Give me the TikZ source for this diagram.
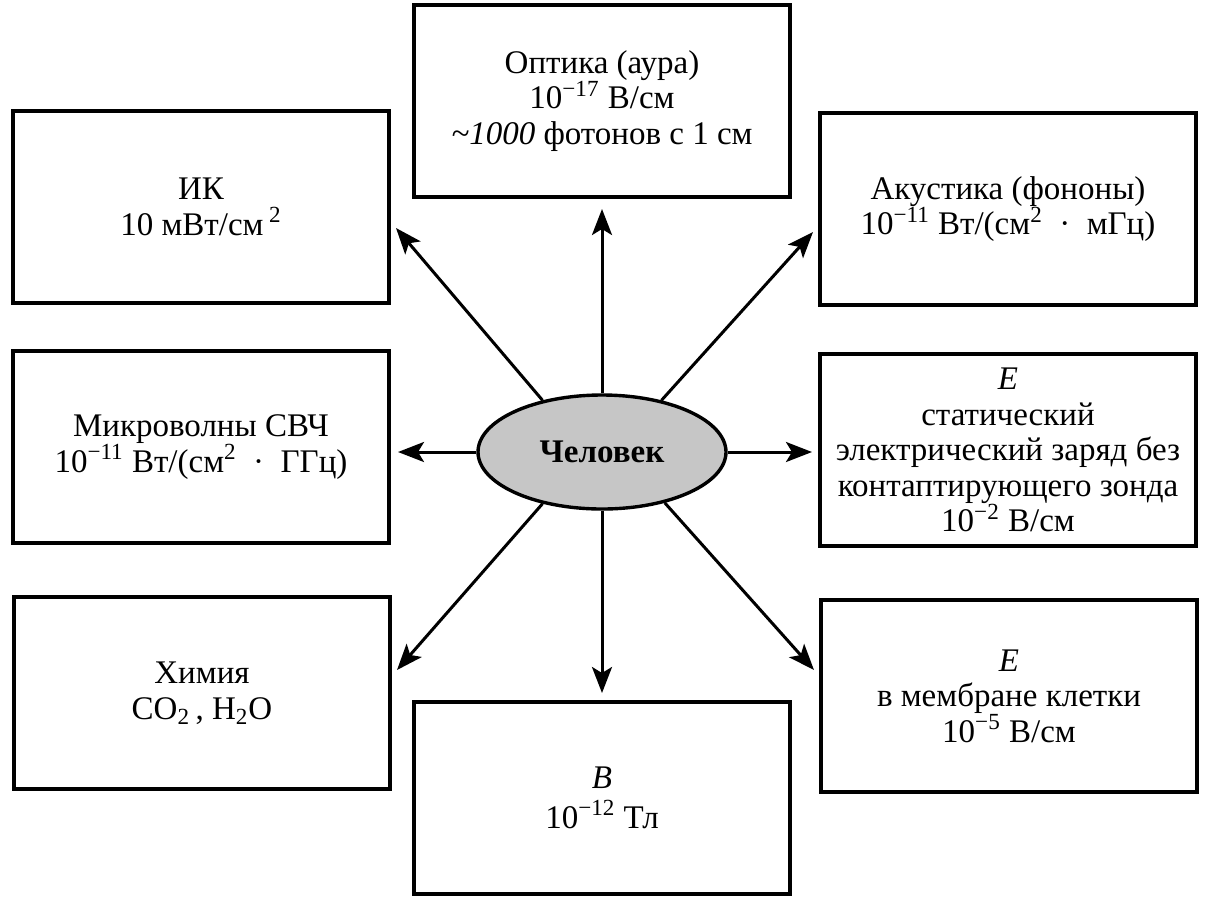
\documentclass[tikz,border=0pt]{standalone}
\usepackage{fontspec}
\setmainfont{Liberation Serif}
\usepackage{tikz}
\usetikzlibrary{arrows.meta,shapes.geometric}

\begin{document}
\begin{tikzpicture}[
  x=0.5pt,y=-0.5pt,
  font=\fontsize{16.5}{17.8}\selectfont,
  блок/.style={draw,line width=2pt,align=center,minimum width=188pt,minimum height=96pt,inner sep=4pt},
  центр/.style={ellipse,draw,line width=1.7pt,fill=gray!45,minimum width=124pt,minimum height=57pt,inner sep=0pt,font=\fontsize{16.5}{17}\selectfont\bfseries},
  стрелка/.style={-{Stealth[length=13pt,width=10pt,inset=3pt]},line width=1.5pt}
]
\useasboundingbox (0,0) rectangle (1209,901);

\node[центр] (c) at (602,452) {Человек};

\node[блок] (opt) at (602,101) {Оптика (аура)\\ 10\textsuperscript{−17} В/см\\ \textit{\textasciitilde1000} фотонов с 1 см};
\node[блок] (ik) at (201,207) {ИК\\ 10 мВт/см\,\textsuperscript{2}};
\node[блок] (ak) at (1008,209) {Акустика (фононы)\\ 10\textsuperscript{−11} Вт/(см\textsuperscript{2}\enspace·\enspace мГц)};
\node[блок] (mv) at (201,447) {Микроволны СВЧ\\ 10\textsuperscript{−11} Вт/(см\textsuperscript{2}\enspace·\enspace ГГц)};
\node[блок] (es) at (1008,450) {\textit{E}\\ статический\\ электрический заряд без\\ контаптирующего зонда\\ 10\textsuperscript{−2} В/см};
\node[блок] (him) at (202,693) {Химия\\ CO\textsubscript{2}\,, H\textsubscript{2}O};
\node[блок] (b) at (602,798) {\textit{B}\\[2pt] 10\textsuperscript{−12} Тл};
\node[блок] (em) at (1009,696) {\textit{E}\\ в мембране клетки\\ 10\textsuperscript{−5} В/см};

\foreach \a/\t/\dx/\dy in {north/opt.south/0/10, 139/ik.east/5/21, 41/ak.west/-5/23,
  west/mv.east/7/5, east/es.west/-6/2, 221/him.east/5/-23, south/b.north/0/-7, 321/em.west/-5/-26}
  \draw[стрелка] (c.\a) -- ([shift={(\dx,\dy)}]\t);
\end{tikzpicture}
\end{document}
